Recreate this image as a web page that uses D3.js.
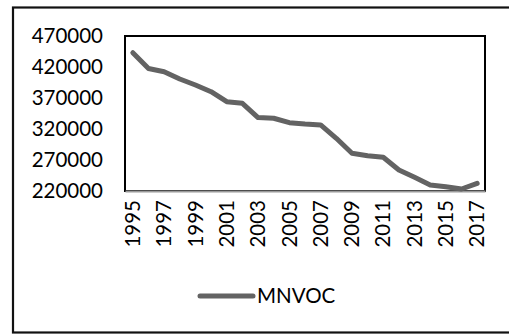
<!DOCTYPE html>
<html>
<head>
<meta charset="utf-8">
<script src="https://cdn.jsdelivr.net/npm/d3@7"></script>
<style>
  html, body { margin: 0; padding: 0; background: #fff; }
  svg { display: block; }
  text { font-family: Lato, "Liberation Sans", Arial, sans-serif; fill: #000; }
</style>
</head>
<body>
<svg id="chart" width="509" height="334"></svg>
<script>
// MNVOC emissions by year
const years = [1995, 1996, 1997, 1998, 1999, 2000, 2001, 2002, 2003, 2004, 2005, 2006,
               2007, 2008, 2009, 2010, 2011, 2012, 2013, 2014, 2015, 2016, 2017];
const mnvoc = [443000, 417600, 412400, 400600, 391000, 380200, 364000, 361400, 338500,
               337300, 330200, 328000, 326500, 305000, 280800, 277000, 274400, 253900,
               242100, 229700, 226900, 223200, 232400];
const yTicks = [220000, 270000, 320000, 370000, 420000, 470000];
const seriesName = "MNVOC";

const svg = d3.select("#chart");
const plot = { left: 125, right: 485, top: 36, bottom: 191 };
const lineColor = "#636363";
const fontFamily = "Lato, 'Liberation Sans', Arial, sans-serif";
const fontSize = "20.5px";

// outer chart frame (right edge runs past the canvas)
svg.append("rect")
  .attr("x", 13).attr("y", 7.5)
  .attr("width", 520).attr("height", 325)
  .attr("fill", "#fff")
  .attr("stroke", "#111").attr("stroke-width", 2.2);

const x = d3.scaleBand()
  .domain(years)
  .range([plot.left, plot.right]);

const y = d3.scaleLinear()
  .domain([220000, 470000])
  .range([plot.bottom, plot.top]);

// plot area border
svg.append("rect")
  .attr("x", plot.left).attr("y", plot.top)
  .attr("width", plot.right - plot.left)
  .attr("height", plot.bottom - plot.top)
  .attr("fill", "none")
  .attr("stroke", "#000").attr("stroke-width", 2);

// y axis labels
const yAxis = d3.axisLeft(y).tickValues(yTicks).tickSize(0).tickPadding(22)
  .tickFormat(d3.format("d"));
const yg = svg.append("g")
  .attr("transform", `translate(${plot.left},0)`)
  .call(yAxis);
yg.select(".domain").remove();
yg.selectAll("text")
  .style("font-family", fontFamily)
  .style("font-size", fontSize)
  .attr("fill", "#000");

// x axis: category line and rotated year labels on every other year
const xAxis = d3.axisBottom(x)
  .tickValues(years.filter((d, i) => i % 2 === 0))
  .tickSize(0);
const xg = svg.append("g")
  .attr("transform", `translate(0,${plot.bottom})`)
  .call(xAxis);
xg.select(".domain")
  .attr("stroke", "#9a9a9a").attr("stroke-width", 2);
xg.selectAll("text")
  .style("font-family", fontFamily)
  .style("font-size", fontSize)
  .attr("fill", "#000")
  .attr("text-anchor", "end")
  .attr("transform", "rotate(-90)")
  .attr("x", -9)
  .attr("y", 0)
  .attr("dy", "0.35em");

// series line
const line = d3.line()
  .x((d, i) => x(years[i]) + x.bandwidth() / 2)
  .y(d => y(d));

svg.append("path")
  .datum(mnvoc)
  .attr("d", line)
  .attr("fill", "none")
  .attr("stroke", lineColor)
  .attr("stroke-width", 5)
  .attr("stroke-linejoin", "round")
  .attr("stroke-linecap", "round");

// legend
const legend = svg.append("g").attr("transform", "translate(0,296)");
legend.append("line")
  .attr("x1", 200).attr("x2", 253)
  .attr("y1", 0).attr("y2", 0)
  .attr("stroke", lineColor)
  .attr("stroke-width", 5)
  .attr("stroke-linecap", "round");
legend.append("text")
  .attr("x", 257).attr("y", 0)
  .attr("dy", "0.35em")
  .style("font-family", fontFamily)
  .style("font-size", fontSize)
  .text(seriesName);
</script>
</body>
</html>
